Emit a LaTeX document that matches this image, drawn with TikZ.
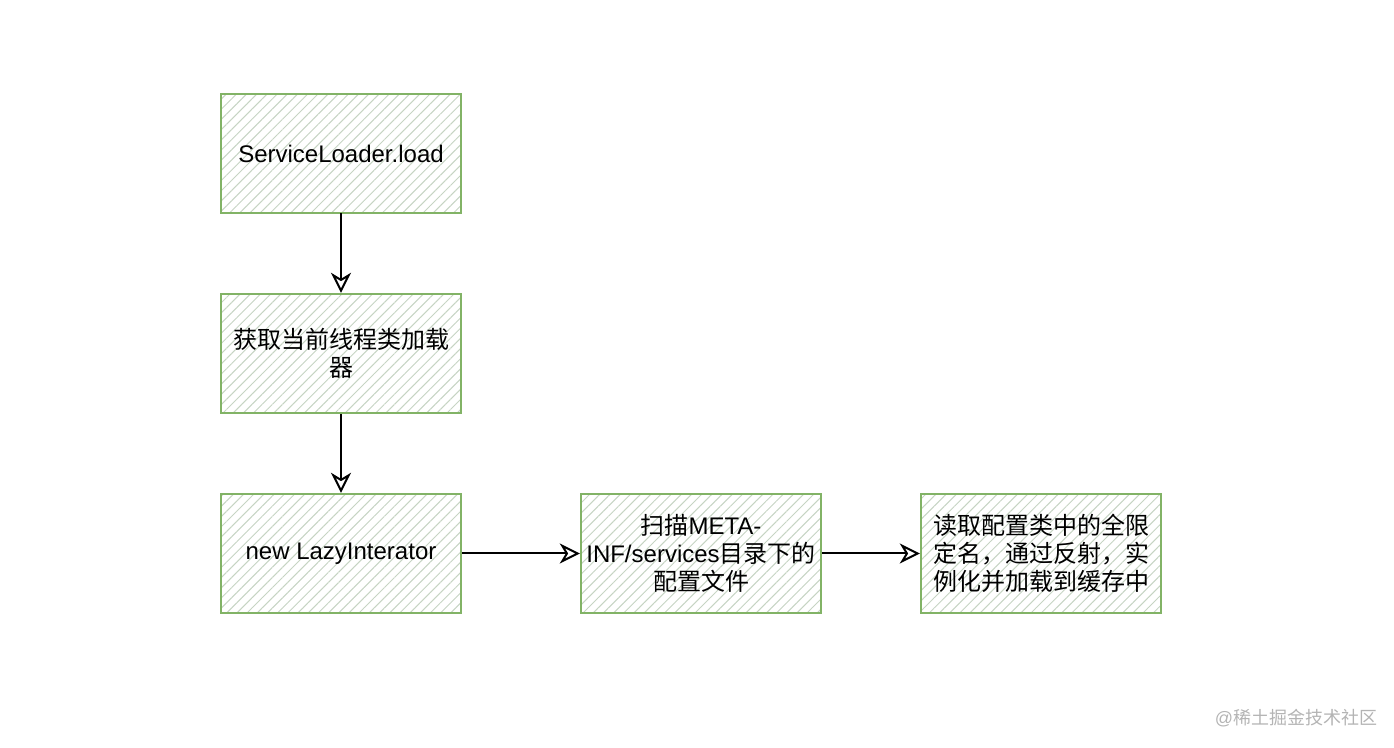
\documentclass[tikz,border=0pt]{standalone}
\usepackage{fontspec}
\setmainfont{Liberation Sans}
\newfontfamily\cjk{Noto Sans CJK SC}
\usetikzlibrary{patterns.meta,arrows.meta}
\definecolor{boxline}{HTML}{82B366}
\definecolor{hatch}{HTML}{C6D4C3}
\definecolor{wm}{HTML}{B4B4B4}
\tikzset{
  flowbox/.style={draw=boxline, line width=1.2pt,
    pattern={Lines[angle=45,distance=3.6pt,line width=0.5pt]}, pattern color=hatch,
    minimum width=120pt, minimum height=59.5pt, inner sep=0pt, align=center,
    font=\fontsize{12}{14}\selectfont},
  flowarrow/.style={draw=black, line width=1pt, -{Stealth[open,length=10pt,width=10pt,inset=3pt]}}
}
\begin{document}
\begin{tikzpicture}[x=0.5pt,y=-0.5pt]
\useasboundingbox (0,0) rectangle (1394,748);
\node[flowbox] (b1) at (341,153.5) {ServiceLoader.load};
\node[flowbox] (b2) at (341,353.5) {{\cjk 获取当前线程类加载}\\{\cjk 器}};
\node[flowbox] (b3) at (341,553.5) {new LazyInterator};
\node[flowbox] (b4) at (701,553.5) {{\cjk 扫描}META-\\INF/services{\cjk 目录下的}\\{\cjk 配置文件}};
\node[flowbox] (b5) at (1041,553.5) {{\cjk 读取配置类中的全限}\\{\cjk 定名，通过反射，实}\\{\cjk 例化并加载到缓存中}};
\draw[flowarrow] (b1) -- (b2);
\draw[flowarrow] (b2) -- (b3);
\draw[flowarrow] (b3) -- (b4);
\draw[flowarrow] (b4) -- (b5);
\node[text=wm, font=\fontsize{9}{11}\selectfont, inner sep=0pt] (wmk) at (1296,718) {@{\cjk 稀土掘金技术社区}};
\end{tikzpicture}
\end{document}
